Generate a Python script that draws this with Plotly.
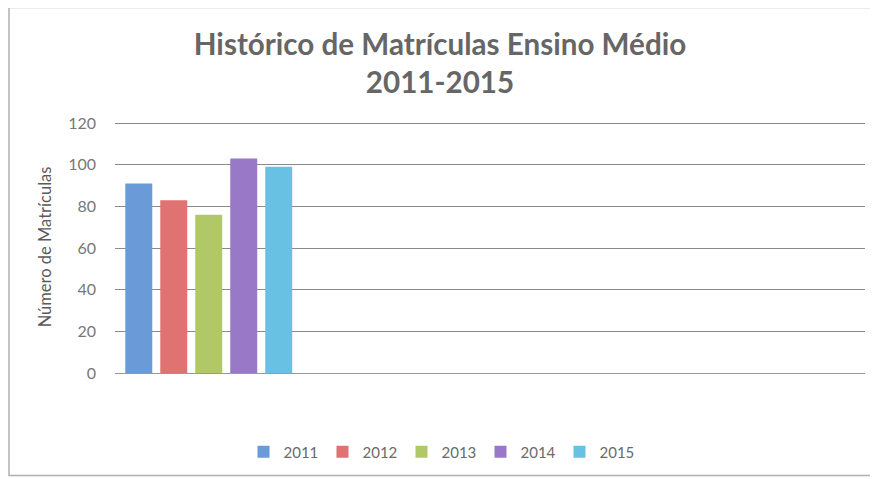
import plotly.graph_objects as go

years = ["2011", "2012", "2013", "2014", "2015"]
values = [91, 83, 76, 103, 99]
colors = ["#6A9AD8", "#E07272", "#B0C868", "#9A78C8", "#68C0E2"]
category = ["grupo"]
empty_categories = ["c2", "c3", "c4"]
y_ticks = [0, 20, 40, 60, 80, 100, 120]

fig = go.Figure()
for yr, v, c in zip(years, values, colors):
    fig.add_trace(go.Bar(x=category, y=[v], name=yr, marker=dict(color=c, line=dict(width=0))))

# page body has an 8px margin, so the figure is sized/placed to compensate
W, H = 870, 471
L, R, T, B = 107, 13, 113, 105
pw, ph = W - L - R, H - T - B

def px(x):
    return (x - L) / pw

def py(y):
    return (H - B - y) / ph

fig.update_layout(
    width=W, height=H,
    margin=dict(l=L, r=R, t=T, b=B),
    paper_bgcolor="white", plot_bgcolor="white",
    barmode="group", bargap=0.067, bargroupgap=0.229,
    title=dict(
        text="Histórico de Matrículas Ensino Médio<br>2011-2015",
        x=432 / W, xref="container", xanchor="center",
        y=1 - 47 / H, yref="container", yanchor="top",
        font=dict(family="Lato", size=29.6, color="#666666", weight="bold"),
    ),
    font=dict(family="Lato", color="#6a6a6a", size=13),
    legend=dict(orientation="h", x=px(433), xanchor="center", y=py(444), yanchor="middle",
                font=dict(size=15, color="#6a6a6a"), itemwidth=30, traceorder="normal",
                entrywidth=34, entrywidthmode="pixels"),
    xaxis=dict(type="category", categoryorder="array", categoryarray=category + empty_categories,
               range=[-0.5, 3.5], showticklabels=False, showgrid=False,
               showline=True, linecolor="#999999", linewidth=1, ticks=""),
    yaxis=dict(range=[0, 121], tickvals=y_ticks, showgrid=True, gridcolor="#8a8a8a", gridwidth=1,
               zeroline=False, showline=False, ticks="", ticklabelstandoff=18,
               tickfont=dict(size=16, color="#777777"),
               title=dict(text="Número de Matrículas", font=dict(size=16.5, color="#5a5a5a"), standoff=12)),
    shapes=[dict(type="rect", xref="paper", yref="paper",
                 x0=px(1), x1=px(880), y0=py(469), y1=py(-1),
                 line=dict(color="#b0b0b0", width=1.5), fillcolor="rgba(0,0,0,0)", layer="below")],
)

fig.write_html("out.html")
